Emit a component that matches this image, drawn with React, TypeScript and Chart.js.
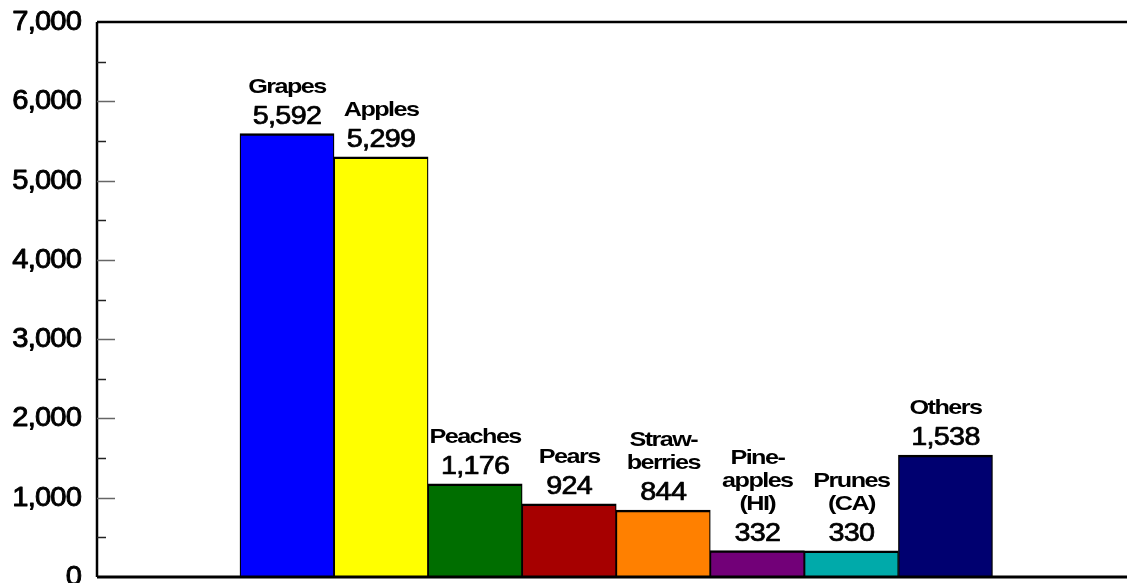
import React, { useEffect, useRef } from "react";
import { Chart, registerables } from "chart.js";

Chart.register(...registerables);

const categories: string[][] = [
  ["Grapes"],
  ["Apples"],
  ["Peaches"],
  ["Pears"],
  ["Straw-", "berries"],
  ["Pine-", "apples", "(HI)"],
  ["Prunes", "(CA)"],
  ["Others"],
];
const values: number[] = [5592, 5299, 1176, 924, 844, 332, 330, 1538];
const barColors: string[] = [
  "#0000ff",
  "#ffff00",
  "#006e00",
  "#a60000",
  "#ff8000",
  "#720078",
  "#00aaaa",
  "#000070",
];
const yTickValues: number[] = [0, 1000, 2000, 3000, 4000, 5000, 6000, 7000];
const yTickLabels: string[] = ["0", "1,000", "2,000", "3,000", "4,000", "5,000", "6,000", "7,000"];
const yMinorTickValues: number[] = [500, 1500, 2500, 3500, 4500, 5500, 6500];

const FONT = '"Liberation Sans", Arial, sans-serif';

function drawText(
  ctx: CanvasRenderingContext2D,
  text: string,
  x: number,
  y: number,
  font: string,
  sx: number,
  align: CanvasTextAlign,
  spacing: string,
  stroke: number
) {
  ctx.save();
  ctx.translate(x, y);
  ctx.scale(sx, 1);
  ctx.font = font;
  (ctx as any).letterSpacing = spacing;
  ctx.textAlign = align;
  ctx.textBaseline = "alphabetic";
  ctx.fillStyle = "#000";
  ctx.fillText(text, 0, 0);
  if (stroke > 0) {
    ctx.strokeStyle = "#000";
    ctx.lineWidth = stroke;
    ctx.lineJoin = "round";
    ctx.strokeText(text, 0, 0);
  }
  ctx.restore();
}

const decorPlugin = {
  id: "decor",
  afterDatasetsDraw(chart: any) {
    const ctx: CanvasRenderingContext2D = chart.ctx;
    const area = chart.chartArea;
    const yScale = chart.scales.y;
    ctx.save();
    ctx.strokeStyle = "#000";
    ctx.lineWidth = 2.5;
    ctx.beginPath();
    ctx.moveTo(area.left, yScale.getPixelForValue(7000));
    ctx.lineTo(area.right, yScale.getPixelForValue(7000));
    ctx.stroke();
    ctx.beginPath();
    ctx.moveTo(area.left, yScale.getPixelForValue(7000));
    ctx.lineTo(area.left, yScale.getPixelForValue(0));
    ctx.stroke();
    ctx.lineWidth = 3;
    ctx.beginPath();
    ctx.moveTo(area.left, yScale.getPixelForValue(0));
    ctx.lineTo(area.right, yScale.getPixelForValue(0));
    ctx.stroke();
    ctx.lineWidth = 1.5;
    ctx.strokeStyle = "#666";
    yTickValues.forEach((v) => {
      if (v === 0 || v === 7000) return;
      const py = Math.round(yScale.getPixelForValue(v)) + 0.5;
      ctx.beginPath();
      ctx.moveTo(area.left, py);
      ctx.lineTo(area.left + 18, py);
      ctx.stroke();
    });
    ctx.strokeStyle = "#222";
    yMinorTickValues.forEach((v) => {
      const py = Math.round(yScale.getPixelForValue(v)) + 0.5;
      ctx.beginPath();
      ctx.moveTo(area.left, py);
      ctx.lineTo(area.left + 9, py);
      ctx.stroke();
    });
    ctx.restore();
    yTickValues.forEach((v, i) => {
      const py = yScale.getPixelForValue(v);
      drawText(ctx, yTickLabels[i], area.left - 16, py + 8, `27px ${FONT}`, 1.08, "right", "-0.8px", 0.9);
    });
    const meta = chart.getDatasetMeta(0);
    meta.data.forEach((bar: any, i: number) => {
      const valBase = bar.y - 10;
      drawText(ctx, values[i].toLocaleString("en-US"), bar.x, valBase, `25px ${FONT}`, 1.15, "center", "-0.6px", 0.7);
      const lines = categories[i];
      const lastBase = valBase - 31;
      lines.forEach((ln, j) => {
        const by = lastBase - (lines.length - 1 - j) * 23;
        drawText(ctx, ln, bar.x, by, `bold 21px ${FONT}`, 1.2, "center", "-1.3px", 0);
      });
    });
  },
};

export default function App() {
  const ref = useRef<HTMLCanvasElement>(null);
  useEffect(() => {
    document.body.style.margin = "0";
    const chart = new Chart(ref.current as HTMLCanvasElement, {
      type: "bar",
      data: {
        datasets: [
          {
            data: values.map((v, i) => ({ x: i, y: v })),
            backgroundColor: barColors,
            borderColor: "#000",
            borderWidth: { top: 2.5, left: 1.3, right: 1.3, bottom: 0 },
            borderSkipped: false,
            barPercentage: 1,
            categoryPercentage: 1,
          },
        ],
      },
      options: {
        responsive: false,
        animation: false,
        events: [],
        layout: { padding: { left: 97, top: 22, right: 0, bottom: 6 } },
        plugins: { legend: { display: false }, tooltip: { enabled: false } },
        scales: {
          x: {
            type: "linear",
            display: false,
            min: -2.02,
            max: 8.93,
            offset: false,
            afterBuildTicks: (scale: any) => {
              scale.ticks = values.map((_, i) => ({ value: i }));
            },
          },
          y: { display: false, min: 0, max: 7000 },
        },
      },
      plugins: [decorPlugin],
    });
    return () => chart.destroy();
  }, []);
  return (
    <div style={{ position: "fixed", left: 0, top: 0, width: 1127, height: 583, background: "#fff" }}>
      <canvas ref={ref} width={1127} height={583} />
    </div>
  );
}
